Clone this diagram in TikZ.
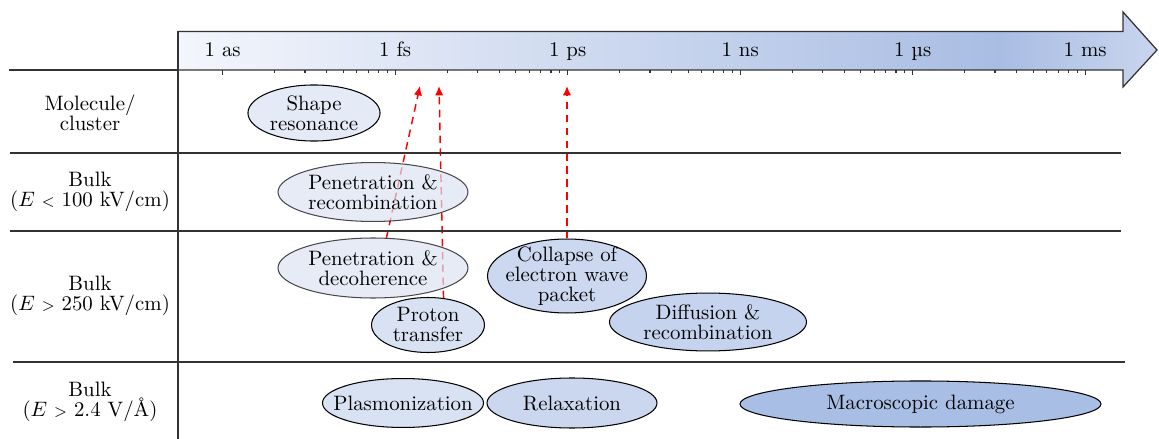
\documentclass[tikz,border=0pt]{standalone}
\usetikzlibrary{shapes.geometric,arrows.meta}
\pgfdeclarelayer{bg}
\pgfsetlayers{bg,main}
\definecolor{axL}{HTML}{F3F6FC}
\definecolor{axM}{HTML}{A9BDE3}
\definecolor{axR}{HTML}{C9D5EE}
\pgfdeclarehorizontalshading{axisshade}{100bp}{color(0bp)=(axL); color(25bp)=(axL); color(67bp)=(axM); color(75bp)=(axR); color(100bp)=(axR)}
\definecolor{linec}{HTML}{333333}
\definecolor{fSR}{HTML}{E4EAF6}
\definecolor{fPen}{HTML}{DBE2F2}
\definecolor{fPT}{HTML}{D9E2F3}
\definecolor{fCW}{HTML}{CBD8EF}
\definecolor{fDF}{HTML}{C6D3EE}
\definecolor{fPL}{HTML}{D9E2F3}
\definecolor{fRX}{HTML}{CBD7EE}
\definecolor{fMD}{HTML}{A9BEE4}
\newcommand{\smallrel}[1]{{\fontsize{7.5}{7.5}\selectfont #1}}
\begin{document}
\begin{tikzpicture}[x=0.48pt,y=-0.48pt,
  font=\fontsize{10}{9.6}\selectfont,
  rowline/.style={draw=linec, line width=0.6pt},
  evt/.style={ellipse, draw=black, line width=0.5pt, inner sep=0pt},
  faded/.style={opacity=0.7},
  lbl/.style={align=center, inner sep=0pt},
  rowlabel/.style={align=center, inner sep=0pt},
  tlabel/.style={inner sep=0pt, anchor=base},
  link/.style={red, dash pattern=on 3.6pt off 2.6pt, line width=0.7pt, -{Latex[length=4.5pt,width=4pt]}}]
\useasboundingbox (0,0) rectangle (1159,439);

% time axis arrow
\shadedraw[shading=axisshade, draw=linec, line width=0.6pt]
  (178,31.5) -- (1123,31.5) -- (1123,12) -- (1157,50) -- (1123,87) -- (1123,70) -- (178,70) -- cycle;

% ticks
\foreach \k in {0,...,5} {
  \draw[linec, line width=0.5pt] ({222.7+172.5*\k},70) -- ++(0,5);
}
\foreach \k in {0,...,4} {
  \foreach \m in {2,...,9} {
    \draw[linec, line width=0.5pt] ({222.7+172.5*\k+172.5*log10(\m)},70) -- ++(0,3);
  }
}
\node[tlabel] (t0) at (222.7,57) {1 as};
\node[tlabel] (t1) at (395.2,57) {1 fs};
\node[tlabel] (t2) at (567.7,57) {1 ps};
\node[tlabel] (t3) at (740.2,57) {1 ns};
\node[tlabel] (t4) at (912.7,57) {1 µs};
\node[tlabel] (t5) at (1085.2,57) {1 ms};

% table lines
\draw[rowline] (9,70) -- (178,70);
\draw[rowline] (10,153) -- (1121,153);
\draw[rowline] (10,231) -- (1121,231);
\draw[rowline] (13,362) -- (1125,362);
\draw[rowline] (178,31.5) -- (178,439);

% row labels
\node[rowlabel] (r1) at (90,113) {Molecule/\\cluster};
\node[rowlabel] (r2) at (90,192) {Bulk\\($E$ \smallrel{<} 100 kV/cm)};
\node[rowlabel] (r3) at (90,296) {Bulk\\($E$ \smallrel{>} 250 kV/cm)};
\node[rowlabel] (r4) at (90,402) {Bulk\\($E$ \smallrel{>} 2.4 V/Å)};

% events
\node[evt, fill=fSR, minimum width=63.4pt, minimum height=26.9pt,
  label={[lbl]center:{Shape\\resonance}}] (sr) at (314,113) {};
\node[evt, faded, fill=fPen, minimum width=91.2pt, minimum height=28.3pt,
  label={[lbl]center:{Penetration \&\\recombination}}] (pr) at (373,192) {};
\node[evt, faded, fill=fPen, minimum width=91.2pt, minimum height=28.8pt,
  label={[lbl]center:{Penetration \&\\decoherence}}] (pd) at (373,268) {};
\node[evt, fill=fPT, minimum width=54.2pt, minimum height=26.4pt,
  label={[lbl]center:{Proton\\transfer}}] (pt) at (428,325) {};
\node[evt, fill=fCW, minimum width=76.3pt, minimum height=35.5pt,
  label={[lbl]center:{Collapse of\\electron wave\\packet}}] (cw) at (567,276) {};
\node[evt, fill=fDF, minimum width=94.6pt, minimum height=27.8pt,
  label={[lbl]center:{Diffusion \&\\recombination}}] (df) at (708,322) {};
\node[evt, fill=fPL, minimum width=77.3pt, minimum height=23.5pt,
  label={[lbl]center:{Plasmonization}}] (pl) at (403,403) {};
\node[evt, fill=fRX, minimum width=81.6pt, minimum height=24pt,
  label={[lbl]center:{Relaxation}}] (rx) at (572,403) {};
\node[evt, fill=fMD, minimum width=173.3pt, minimum height=22.1pt,
  label={[lbl]center:{Macroscopic damage}}] (md) at (920.5,404) {};

% arrow ends
\coordinate (c1) at (420,86);
\coordinate (c2) at (439,86);
\coordinate (c3) at (567,86);

\begin{pgfonlayer}{bg}
\draw[link] (pd.66) -- (c1);
\draw[link] (pt.60) -- (c2);
\draw[link] (cw.north) -- (c3);
\end{pgfonlayer}
\end{tikzpicture}
\end{document}
